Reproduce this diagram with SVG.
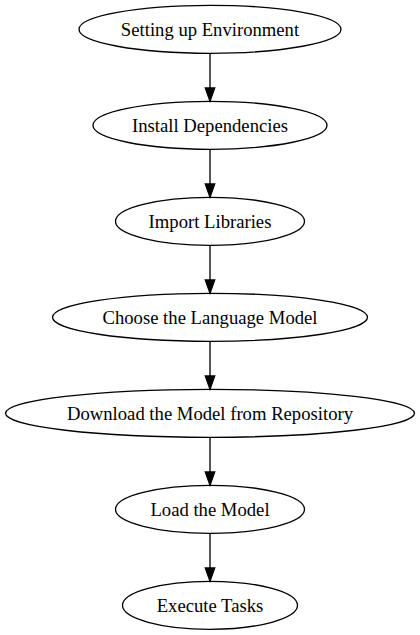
<svg xmlns="http://www.w3.org/2000/svg" width="420" height="635" viewBox="0 0 420 635">
<style>
.n ellipse{fill:none;stroke:#000;stroke-width:1.33}
.n text{font-family:"Liberation Serif","Times New Roman",serif;font-size:18.67px;text-anchor:middle;fill:#000}
.e line{stroke:#000;stroke-width:1.33}
.e polygon{fill:#000;stroke:#000;stroke-width:1.33}
</style>
<rect width="420" height="635" fill="#fff"/>
<g id="n1" class="n"><ellipse cx="210" cy="29.3" rx="131" ry="24"/><text x="210" y="35.5">Setting up Environment</text></g>
<g id="n2" class="n"><ellipse cx="210" cy="125.3" rx="117" ry="24"/><text x="210" y="131.5">Install Dependencies</text></g>
<g id="n3" class="n"><ellipse cx="210" cy="221.3" rx="94.5" ry="24"/><text x="210" y="227.5">Import Libraries</text></g>
<g id="n4" class="n"><ellipse cx="210" cy="317.3" rx="157.5" ry="24"/><text x="210" y="323.5">Choose the Language Model</text></g>
<g id="n5" class="n"><ellipse cx="210" cy="413.3" rx="204.5" ry="24"/><text x="210" y="419.5">Download the Model from Repository</text></g>
<g id="n6" class="n"><ellipse cx="210" cy="509.3" rx="94.5" ry="24"/><text x="210" y="515.5">Load the Model</text></g>
<g id="n7" class="n"><ellipse cx="210" cy="605.3" rx="87.5" ry="24"/><text x="210" y="611.5">Execute Tasks</text></g>
<g id="edges" class="e">
<line x1="210" y1="53.3" x2="210" y2="88"/><polygon points="205.3,88 214.7,88 210,101.3"/>
<line x1="210" y1="149.3" x2="210" y2="184"/><polygon points="205.3,184 214.7,184 210,197.3"/>
<line x1="210" y1="245.3" x2="210" y2="280"/><polygon points="205.3,280 214.7,280 210,293.3"/>
<line x1="210" y1="341.3" x2="210" y2="376"/><polygon points="205.3,376 214.7,376 210,389.3"/>
<line x1="210" y1="437.3" x2="210" y2="472"/><polygon points="205.3,472 214.7,472 210,485.3"/>
<line x1="210" y1="533.3" x2="210" y2="568"/><polygon points="205.3,568 214.7,568 210,581.3"/>
</g>
</svg>
